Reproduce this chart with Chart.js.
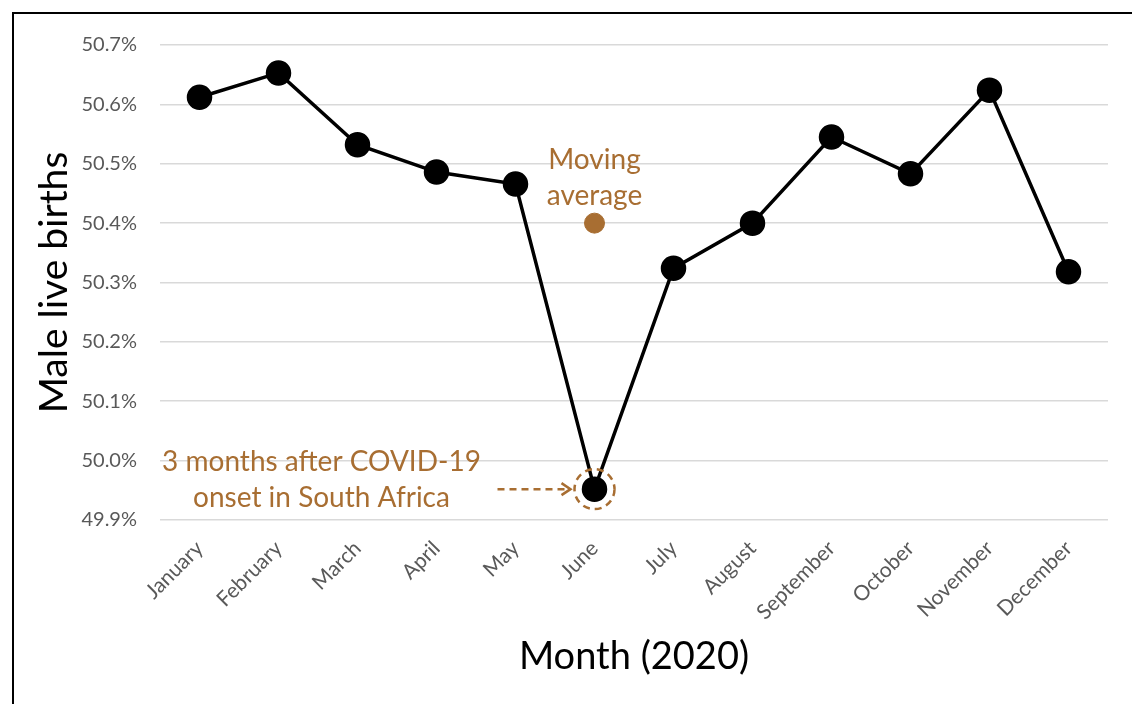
<!DOCTYPE html>
<html>
<head>
<meta charset="utf-8">
<title>Male live births 2020</title>
<script src="https://cdn.jsdelivr.net/npm/chart.js@4"></script>
<style>
    html, body { margin: 0; padding: 0; background: #fff; }
    #frame { position: absolute; left: 12px; top: 12px; width: 1200px; height: 800px;
             border-left: 2px solid #000; border-top: 2px solid #000; }
    #wrap { position: absolute; left: 0; top: 0; width: 1132px; height: 704px; }
</style>
</head>
<body>
<div id="frame"></div>
<div id="wrap"><canvas id="chart"></canvas></div>
<script>
// Data
const months = ['January', 'February', 'March', 'April', 'May', 'June',
                'July', 'August', 'September', 'October', 'November', 'December'];
const maleShare = [50.612, 50.653, 50.532, 50.486, 50.466, 49.952,
                   50.324, 50.400, 50.545, 50.483, 50.624, 50.318];
const movingAverage = [null, null, null, null, null, 50.40,
                       null, null, null, null, null, null];
const yMin = 49.9, yMax = 50.7, yStep = 0.1;

const brown = '#A86E32';
const fontFamily = 'Lato, "Open Sans", sans-serif';

// draws the COVID note, arrow, dashed ring and moving average label
const notes = {
    id: 'notes',
    afterDatasetsDraw(chart) {
        const ctx = chart.ctx;
        const june = chart.getDatasetMeta(0).data[5];
        const avg = chart.getDatasetMeta(1).data[5];
        ctx.save();
        ctx.strokeStyle = brown;
        ctx.fillStyle = brown;
        ctx.lineWidth = 2.5;

        // dashed ring
        ctx.setLineDash([7, 5]);
        ctx.beginPath();
        ctx.arc(june.x, june.y, 20, 0, Math.PI * 2);
        ctx.stroke();

        // dashed arrow
        ctx.beginPath();
        ctx.moveTo(june.x - 97, june.y);
        ctx.lineTo(june.x - 26, june.y);
        ctx.stroke();
        ctx.setLineDash([]);
        ctx.beginPath();
        ctx.moveTo(june.x - 33, june.y - 6);
        ctx.lineTo(june.x - 24, june.y);
        ctx.lineTo(june.x - 33, june.y + 6);
        ctx.stroke();

        ctx.font = '28px ' + fontFamily;
        ctx.textAlign = 'center';
        ctx.textBaseline = 'middle';
        ctx.fillText('3 months after COVID-19', june.x - 273, june.y - 27);
        ctx.fillText('onset in South Africa', june.x - 273, june.y + 9);

        ctx.fillText('Moving', avg.x, avg.y - 63);
        ctx.fillText('average', avg.x, avg.y - 27);
        ctx.restore();
    }
};

const chart = new Chart(document.getElementById('chart').getContext('2d'), {
    type: 'line',
    data: {
        labels: months,
        datasets: [{
            label: 'Male live births',
            data: maleShare,
            borderColor: '#000',
            backgroundColor: '#000',
            borderWidth: 3.5,
            pointRadius: 11,
            pointHoverRadius: 11,
            tension: 0
        }, {
            label: 'Moving average',
            data: movingAverage,
            showLine: false,
            backgroundColor: brown,
            borderColor: brown,
            pointRadius: 10,
            pointHoverRadius: 10
        }]
    },
    options: {
        responsive: true,
        maintainAspectRatio: false,
        animation: false,
        layout: { padding: { left: 0, top: 45, right: 24, bottom: 0 } },
        plugins: {
            legend: { display: false },
            tooltip: { enabled: false }
        },
        scales: {
            x: {
                offset: true,
                grid: { display: false },
                border: { display: false },
                ticks: {
                    autoSkip: false,
                    minRotation: 45,
                    maxRotation: 45,
                    padding: 8,
                    color: '#595959',
                    font: { family: fontFamily, size: 21 }
                },
                title: {
                    display: true,
                    text: 'Month (2020)',
                    color: '#000',
                    font: { family: fontFamily, size: 38 },
                    padding: { bottom: 24 }
                },
                afterFit(scale) { scale.height = 184; }
            },
            y: {
                min: yMin,
                max: yMax,
                grid: { color: '#d9d9d9', lineWidth: 1.5, drawTicks: false },
                border: { display: false },
                ticks: {
                    stepSize: yStep,
                    padding: 23,
                    color: '#595959',
                    font: { family: fontFamily, size: 20 },
                    callback: v => v.toFixed(1) + '%'
                },
                title: {
                    display: true,
                    text: 'Male live births',
                    color: '#000',
                    font: { family: fontFamily, size: 39 },
                    padding: { top: 31 }
                },
                afterFit(scale) { scale.width = 160; }
            }
        }
    },
    plugins: [notes]
});
</script>
</body>
</html>
